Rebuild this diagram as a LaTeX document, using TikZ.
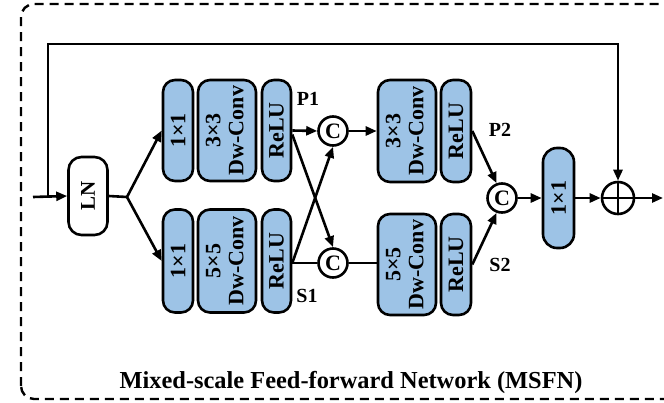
\documentclass[tikz,border=0pt]{standalone}
\usepackage{fontspec}
\setmainfont{Liberation Serif}
\usepackage{graphicx}
\usetikzlibrary{arrows.meta,calc}
\definecolor{blockblue}{RGB}{157,195,230}
\tikzset{
  line/.style={line width=2.6pt},
  arr/.style={line width=2.6pt,-{Triangle[length=11pt,width=9pt]}},
  blk/.style={draw,line width=2.6pt,fill=blockblue,rounded corners=12pt,inner sep=0pt,
    font=\fontsize{22}{24}\selectfont\bfseries},
  lnbox/.style={draw,line width=2.6pt,fill=white,rounded corners=13pt,inner sep=0pt,
    font=\fontsize{21}{23}\selectfont\bfseries},
  cat/.style={draw,circle,line width=2.6pt,fill=white,minimum size=29pt,inner sep=0pt,
    font=\fontsize{22}{24}\selectfont\bfseries},
  lbl/.style={font=\fontsize{20}{22}\selectfont\bfseries,inner sep=0pt},
}
\newcommand{\rot}[1]{\rotatebox{90}{#1}}
\newcommand{\rottwo}[2]{\rotatebox{90}{\begin{tabular}{@{}c@{}}#1\\[-1pt]#2\end{tabular}}}
\begin{document}
\begin{tikzpicture}[x=1pt,y=-1pt]
\useasboundingbox (0,0) rectangle (664,402);
\begin{scope}
\clip (0,0) rectangle (664,402);
% outer dashed frame
\draw[line width=2.4pt,dash pattern=on 9pt off 6pt,rounded corners=13pt] (21,399) rectangle (700,4);
\end{scope}

% input and layer norm
\coordinate (in) at (33,197);
\coordinate (sk) at (48,197);
\coordinate (top) at (48,44);
\node[lnbox,minimum width=39pt,minimum height=78pt] (ln) at (88,196) {\rot{LN}};
\coordinate (br) at (127,197);

% first stage blocks
\node[blk,minimum width=30pt,minimum height=101pt] (a1) at (178,130.5) {\rot{1×1}};
\node[blk,minimum width=58pt,minimum height=101pt] (b1) at (227,130.5) {\rottwo{3×3}{Dw-Conv}};
\node[blk,minimum width=29pt,minimum height=101pt] (r1) at (276.5,130.5) {\rot{ReLU}};
\node[blk,minimum width=30pt,minimum height=103pt] (a2) at (178,261) {\rot{1×1}};
\node[blk,minimum width=58pt,minimum height=103pt] (b2) at (227,261) {\rottwo{5×5}{Dw-Conv}};
\node[blk,minimum width=29pt,minimum height=103pt] (r2) at (276.5,261) {\rot{ReLU}};

\node[lbl] (p1) at (308,99) {P1};
\node[lbl] (s1) at (307,296) {S1};

% concatenations
\node[cat] (c1) at (333,131) {C};
\node[cat] (c2) at (333,263) {C};

% second stage blocks
\node[blk,minimum width=58pt,minimum height=102pt] (b3) at (407,131) {\rottwo{3×3}{Dw-Conv}};
\node[blk,minimum width=30pt,minimum height=102pt] (r3) at (456,131) {\rot{ReLU}};
\node[blk,minimum width=58pt,minimum height=101pt] (b4) at (407,264.5) {\rottwo{5×5}{Dw-Conv}};
\node[blk,minimum width=30pt,minimum height=101pt] (r4) at (456,264.5) {\rot{ReLU}};

\node[lbl] (p2) at (500,130) {P2};
\node[lbl] (s2) at (500,265) {S2};

\node[cat] (c3) at (502,198) {C};
\node[blk,minimum width=31pt,minimum height=100pt,rounded corners=14pt] (f) at (558.5,198) {\rot{1×1}};
\node[draw,circle,line width=2.6pt,minimum size=32pt,inner sep=0pt] (plus) at (618,198) {};
\draw[line] (plus.north) -- (plus.south) (plus.west) -- (plus.east);
\coordinate (out) at (663,198);

% connections
\draw[arr] (in) -- (ln.west);
\draw[arr] (sk) -- (top) -| (plus.north);
\draw[line] (ln.east) -- (br);
\draw[arr] (br) -- (a1.west);
\draw[arr] (br) -- (a2.west);

\draw[arr] (r1.east) -- (c1.west);
\draw[line] (c2 -| r2.east) -- (c2.west);
\draw[arr] ($(r1.east)+(0,4)$) -- (c2.north);
\draw[arr] (c2 -| r2.east) -- (c1.south);

\draw[arr] (c1.east) -- (c1 -| b3.west);
\draw[line] (c2.east) -- (c2 -| b4.west);

\draw[arr] (r3.east) -- (c3.110);
\draw[arr] (r4.east) -- (c3.-110);
\draw[arr] (c3.east) -- (f.west);
\draw[arr] (f.east) -- (plus.west);
\draw[arr] (plus.east) -- (out);

% caption
\node[font=\fontsize{24.4}{26}\selectfont\bfseries,inner sep=0pt] (cap) at (351,383) {Mixed-scale Feed-forward Network (MSFN)};
\end{tikzpicture}
\end{document}
